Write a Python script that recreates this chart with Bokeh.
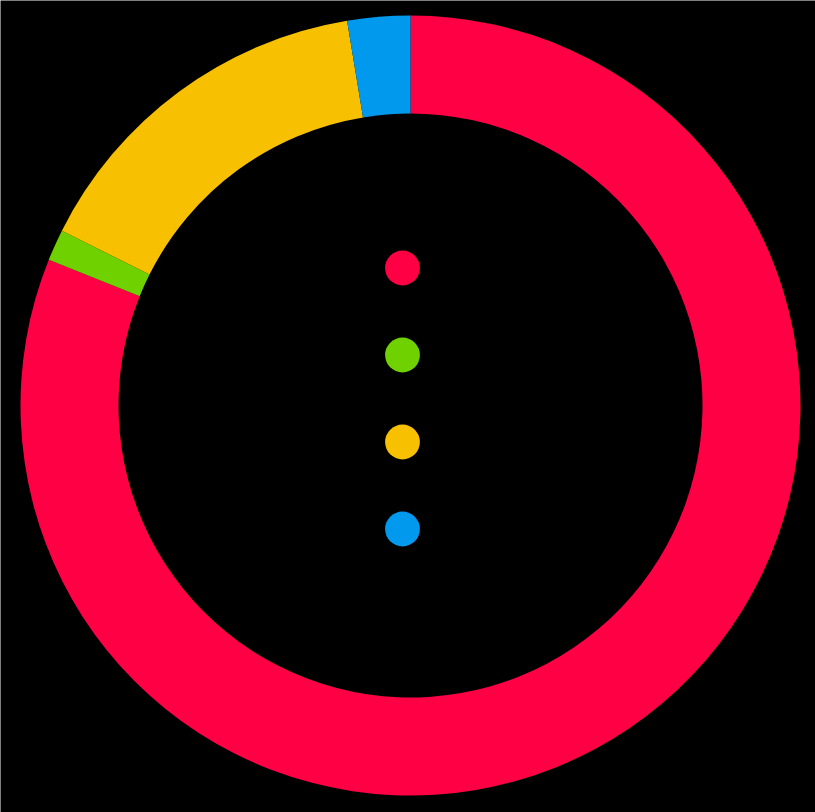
import numpy as np
from bokeh.plotting import figure
from bokeh.models import Range1d, Legend, LegendItem, ColumnDataSource
from bokeh.embed import file_html
from bokeh.resources import INLINE

# data (share of the whole, percent)
categories = ["Series A", "Series B", "Series C", "Series D"]
values = [81.1, 1.3, 15.0, 2.6]
colors = ["#FF0044", "#6FD200", "#F7C000", "#0099EE"]

W, H = 815, 812
cx, cy = 410, 405  # donut centre in pixels inside the figure
outer_r, inner_r = 390, 292

vals = np.array(values, dtype=float)
frac = vals / vals.sum()
cum_end = np.cumsum(frac)
cum_start = cum_end - frac
start_angle = np.pi / 2 - cum_end * 2 * np.pi
end_angle = np.pi / 2 - cum_start * 2 * np.pi

src = ColumnDataSource(dict(cat=categories, color=colors,
                            start=start_angle.tolist(), end=end_angle.tolist(),
                            x=[0] * len(values), y=[0] * len(values)))

p = figure(width=W, height=H, output_backend="svg", toolbar_location=None,
           x_range=Range1d(-cx, W - cx), y_range=Range1d(-(H - cy), cy),
           min_border=0)
p.axis.visible = False
p.grid.visible = False
p.outline_line_color = None
p.background_fill_color = "black"
p.border_fill_color = "black"

p.annular_wedge(x="x", y="y", inner_radius=inner_r, outer_radius=outer_r,
                start_angle="start", end_angle="end", direction="anticlock",
                fill_color="color", line_color=None, source=src)

items = []
for c, col in zip(categories, colors):
    # legend-only renderer (NaN point is not drawn on the plot)
    r = p.scatter(x=[np.nan], y=[np.nan], marker="circle", fill_color=col,
                  line_color=None, size=36)
    items.append(LegendItem(label=c, renderers=[r]))

legend = Legend(items=items, location=(357, 240), orientation="vertical",
                glyph_width=90, glyph_height=87, spacing=0, padding=0, margin=0,
                border_line_color=None, background_fill_alpha=0,
                label_text_color="black", label_text_font_size="12px",
                label_text_font="Open Sans", label_standoff=4)
p.add_layout(legend, "center")

html = file_html(p, INLINE)
html = html.replace("<body>", '<body style="background:black">', 1)
open("out.html", "w").write(html)
